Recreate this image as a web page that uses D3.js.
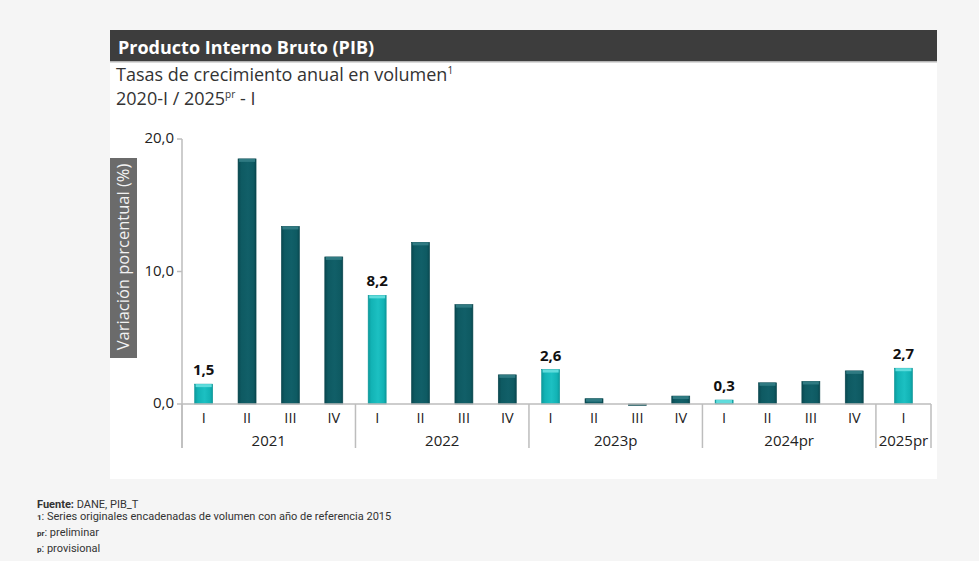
<!DOCTYPE html>
<html lang="es">
<head>
<meta charset="utf-8">
<script src="https://cdn.jsdelivr.net/npm/d3@7"></script>
<title>PIB</title>
<style>
  body { margin: 0; background: #f5f5f5; }
  svg { display: block; }
</style>
</head>
<body>
<div id="chart"></div>
<script>
// datos
const years = ["2021", "2022", "2023p", "2024pr", "2025pr"];
const quarters = ["I","II","III","IV","I","II","III","IV","I","II","III","IV","I","II","III","IV","I"];
const yearIdx = [0,0,0,0,1,1,1,1,2,2,2,2,3,3,3,3,4];
const values = [1.5, 18.5, 13.4, 11.1, 8.2, 12.2, 7.5, 2.2, 2.6, 0.4, -0.1, 0.6, 0.3, 1.6, 1.7, 2.5, 2.7];
const yTicks = [0, 10, 20];
const footNotes = [
  ["Fuente:", " DANE, PIB_T"],
  ["1", ": Series originales encadenadas de volumen con año de referencia 2015"],
  ["pr", ": preliminar"],
  ["p", ": provisional"]
];

const W = 979, H = 561;
const fmt = v => d3.format(".1f")(v).replace(".", ",");

const svg = d3.select("#chart").append("svg")
  .attr("width", W).attr("height", H);

// panel blanco + barra de titulo
svg.append("rect").attr("x", 110).attr("y", 30).attr("width", 827).attr("height", 449).attr("fill", "#fff");
svg.append("rect").attr("x", 110).attr("y", 30).attr("width", 827).attr("height", 31).attr("fill", "#3d3d3d");
svg.append("rect").attr("x", 110).attr("y", 61).attr("width", 827).attr("height", 1.5).attr("fill", "#b5b5b5");

svg.append("text").attr("x", 118).attr("y", 54)
  .attr("font-family", "Open Sans").attr("font-weight", "bold").attr("font-size", 18)
  .attr("fill", "#fff").text("Producto Interno Bruto (PIB)");

const sub1 = svg.append("text").attr("x", 116).attr("y", 81)
  .attr("font-family", "Open Sans").attr("font-size", 18).attr("fill", "#333");
sub1.append("tspan").text("Tasas de crecimiento anual en volumen");
sub1.append("tspan").attr("font-size", 10).attr("dy", -7).text("1");

const sub2 = svg.append("text").attr("x", 116).attr("y", 105)
  .attr("font-family", "Open Sans").attr("font-size", 18).attr("fill", "#333");
sub2.append("tspan").text("2020-I / 2025");
sub2.append("tspan").attr("font-size", 10).attr("dy", -7).text("pr");
sub2.append("tspan").attr("dy", 7).text(" - I");

// escalas
const groupSize = years.map((y, i) => yearIdx.filter(g => g === i).length);
const groupW = groupSize.map((n, i) => i === years.length - 1 ? n * 1.27 : n);
const groupStart = groupW.map((w, i) => d3.sum(groupW.slice(0, i)));
const totalW = d3.sum(groupW);

const x = d3.scaleLinear().domain([0, totalW]).range([182, 931]);
const y = d3.scaleLinear().domain([0, 20]).range([404, 139]);

const barCenter = i => {
  const g = yearIdx[i];
  const k = i - yearIdx.indexOf(g);
  return x(groupStart[g] + (k + 0.5) * groupW[g] / groupSize[g]);
};
const barW = 18;

// gradientes
const defs = svg.append("defs");
function grad(id, edge, mid, light) {
  const lg = defs.append("linearGradient").attr("id", id).attr("x1", 0).attr("x2", 1).attr("y1", 0).attr("y2", 0);
  lg.append("stop").attr("offset", "0%").attr("stop-color", edge);
  lg.append("stop").attr("offset", "18%").attr("stop-color", mid);
  lg.append("stop").attr("offset", "55%").attr("stop-color", light);
  lg.append("stop").attr("offset", "85%").attr("stop-color", mid);
  lg.append("stop").attr("offset", "100%").attr("stop-color", edge);
}
grad("gCyan", "#0c9a9c", "#12b3b5", "#1cc0c2");
grad("gDark", "#094850", "#0e5a62", "#115f68");

const isHi = i => quarters[i] === "I";

// eje y
const yAxis = svg.append("g");
yAxis.append("line").attr("x1", 182).attr("x2", 182).attr("y1", y(20)).attr("y2", 448)
  .attr("stroke", "#bdbdbd").attr("stroke-width", 1.5);
yAxis.selectAll(".tk").data(yTicks).join("line")
  .attr("x1", 177).attr("x2", 182).attr("y1", d => y(d)).attr("y2", d => y(d))
  .attr("stroke", "#bdbdbd").attr("stroke-width", 1.5);
yAxis.selectAll(".tl").data(yTicks).join("text")
  .attr("x", 174).attr("y", d => y(d) + 4)
  .attr("text-anchor", "end").attr("font-family", "Open Sans").attr("font-size", 15)
  .attr("fill", "#222").text(d => fmt(d));

// titulo eje y
svg.append("rect").attr("x", 110).attr("y", 158).attr("width", 27).attr("height", 200).attr("fill", "#6b6b6b");
svg.append("text")
  .attr("transform", "translate(129," + 257 + ") rotate(-90)")
  .attr("text-anchor", "middle").attr("font-family", "Open Sans").attr("font-size", 16.5)
  .attr("fill", "#f2f2f2").text("Variación porcentual (%)");

// barras
const bars = svg.append("g");
values.forEach((v, i) => {
  const top = Math.min(y(v), y(0));
  const h = Math.max(Math.abs(y(v) - y(0)), 1);
  const cx = barCenter(i);
  bars.append("rect")
    .attr("x", cx - barW / 2).attr("y", top).attr("width", barW).attr("height", h)
    .attr("fill", isHi(i) ? "url(#gCyan)" : "url(#gDark)")
    .attr("stroke", isHi(i) ? "#0b9496" : "#08444b").attr("stroke-width", 0.6);
  if (v > 0) {
    bars.append("rect")
      .attr("x", cx - barW / 2 + 1).attr("y", top).attr("width", barW - 2).attr("height", Math.min(3, h))
      .attr("fill", isHi(i) ? "#5fdcdc" : "#2f7a82");
  }
  if (isHi(i)) {
    bars.append("text").attr("x", cx).attr("y", y(Math.max(v, 0)) - 9)
      .attr("text-anchor", "middle").attr("font-family", "Open Sans").attr("font-weight", "bold")
      .attr("font-size", 15).attr("fill", "#111").text(fmt(v));
  }
});

// eje x
const xAxis = svg.append("g");
xAxis.append("line").attr("x1", x(0)).attr("x2", x(totalW)).attr("y1", y(0)).attr("y2", y(0))
  .attr("stroke", "#bdbdbd").attr("stroke-width", 1.5);
const seps = groupStart.concat([totalW]);
xAxis.selectAll(".sep").data(seps).join("line")
  .attr("x1", d => x(d)).attr("x2", d => x(d)).attr("y1", y(0)).attr("y2", 448)
  .attr("stroke", "#bdbdbd").attr("stroke-width", 1.5);
xAxis.selectAll(".q").data(quarters).join("text")
  .attr("x", (d, i) => barCenter(i)).attr("y", 423)
  .attr("text-anchor", "middle").attr("font-family", "Open Sans").attr("font-size", 14.5)
  .attr("fill", "#222").text(d => d);
xAxis.selectAll(".yr").data(years).join("text")
  .attr("x", (d, i) => x(groupStart[i] + groupW[i] / 2)).attr("y", 446)
  .attr("text-anchor", "middle").attr("font-family", "Open Sans").attr("font-size", 15)
  .attr("fill", "#222").text(d => d);

// notas
const foot = svg.append("g").attr("font-family", "Roboto").attr("font-size", 11).attr("fill", "#333");
footNotes.forEach((f, i) => {
  const t = foot.append("text").attr("x", 37).attr("y", 508 + i * 16);
  if (i === 0) {
    t.append("tspan").attr("font-weight", "bold").text(f[0]);
  } else {
    t.append("tspan").attr("font-size", 8).attr("dy", -4).attr("font-weight", "bold").text(f[0]);
    t.append("tspan").attr("dy", 4);
  }
  t.append("tspan").text(f[1]);
});
</script>
</body>
</html>
